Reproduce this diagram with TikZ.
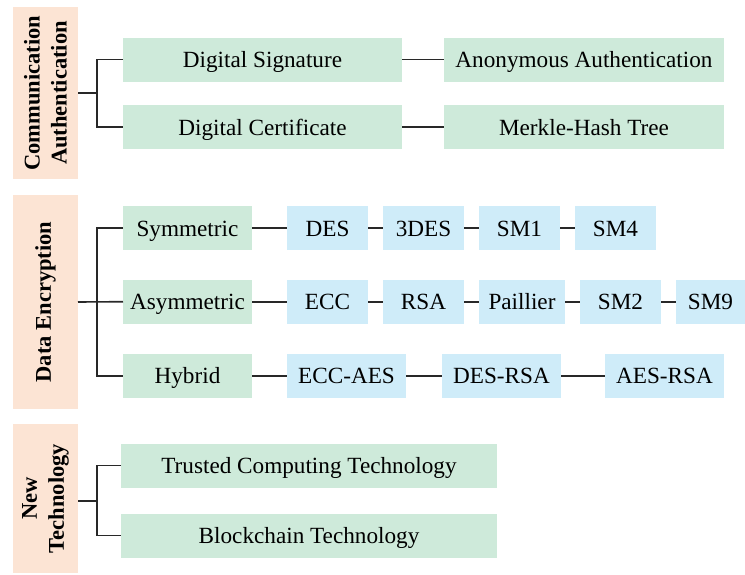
\documentclass[tikz,border=0pt]{standalone}
\usepackage{fontspec}
\setmainfont{Liberation Serif}
\definecolor{org}{RGB}{252,228,212}
\definecolor{grn}{RGB}{206,234,218}
\definecolor{blu}{RGB}{207,236,249}
\definecolor{ln}{RGB}{40,40,40}
\begin{document}
\begin{tikzpicture}[x=1pt,y=-1pt,
  font=\fontsize{23.2}{27}\selectfont,
  base/.style={inner sep=0pt, outer sep=0pt, minimum height=44pt, align=center, text height=19pt, text depth=2.8pt},
  gbox/.style={base, fill=grn},
  bbox/.style={base, fill=blu},
  obox/.style={inner sep=0pt, outer sep=0pt, fill=org, minimum width=65pt},
  vlab/.style={rotate=90, align=center, font=\fontsize{22.5}{27}\selectfont\bfseries},
  conn/.style={draw=ln, line width=1.6pt}]
\useasboundingbox (0,0) rectangle (745,574);

% Section 1
\node[obox, minimum height=172pt] (ca) at (45.5,93) {};
\node[vlab] (cat) at (ca.center) {Communication\\Authentication};
\node[gbox, minimum width=279pt] (ds) at (262.5,59.5) {Digital Signature};
\node[gbox, minimum width=279pt] (dc) at (262.5,127) {Digital Certificate};
\node[gbox, minimum width=280pt] (aa) at (584,59.5) {Anonymous Authentication};
\node[gbox, minimum width=280pt] (mh) at (584,127) {Merkle-Hash Tree};
\coordinate (b1) at (97,93);
\draw[conn] (ca.east |- b1) -- (b1);
\draw[conn] (ds.west) -| (b1) |- (dc.west);
\draw[conn] (ds) -- (aa);
\draw[conn] (dc) -- (mh);

% Section 2
\node[obox, minimum height=214pt] (de) at (45.5,302) {};
\node[vlab] (det) at (de.center) {Data Encryption};
\node[gbox, minimum width=129pt] (sym) at (187.5,228) {Symmetric};
\node[gbox, minimum width=129pt] (asy) at (187.5,301.7) {Asymmetric};
\node[gbox, minimum width=129pt] (hyb) at (187.5,375.7) {Hybrid};
\node[bbox, minimum width=81pt] (des) at (327.5,228) {DES};
\node[bbox, minimum width=81pt] (tdes) at (423.5,228) {3DES};
\node[bbox, minimum width=81pt] (sm1) at (519.5,228) {SM1};
\node[bbox, minimum width=81pt] (sm4) at (615.5,228) {SM4};
\node[bbox, minimum width=81pt] (ecc) at (327.5,301.7) {ECC};
\node[bbox, minimum width=81pt] (rsa) at (423.5,301.7) {RSA};
\node[bbox, minimum width=86pt] (pai) at (522,301.7) {Paillier};
\node[bbox, minimum width=81pt] (sm2) at (620.5,301.7) {SM2};
\node[bbox, minimum width=69pt] (sm9) at (710.5,301.7) {SM9};
\node[bbox, minimum width=119pt] (eccaes) at (346.5,375.7) {ECC-AES};
\node[bbox, minimum width=119pt] (desrsa) at (501.5,375.7) {DES-RSA};
\node[bbox, minimum width=119pt] (aesrsa) at (664.5,375.7) {AES-RSA};
\coordinate (b2) at (97,302);
\draw[conn] (de.east |- b2) -- (asy.west);
\draw[conn] (sym.west) -| (b2) |- (hyb.west);
\draw[conn] (sym) -- (des); \draw[conn] (des) -- (tdes); \draw[conn] (tdes) -- (sm1); \draw[conn] (sm1) -- (sm4);
\draw[conn] (asy) -- (ecc); \draw[conn] (ecc) -- (rsa); \draw[conn] (rsa) -- (pai); \draw[conn] (pai) -- (sm2); \draw[conn] (sm2) -- (sm9);
\draw[conn] (hyb) -- (eccaes); \draw[conn] (eccaes) -- (desrsa); \draw[conn] (desrsa) -- (aesrsa);

% Section 3
\node[obox, minimum height=149pt] (nt) at (45.5,498.5) {};
\node[vlab] (ntt) at (nt.center) {New\\Technology};
\node[gbox, minimum width=376pt] (tc) at (309,465.5) {Trusted Computing Technology};
\node[gbox, minimum width=376pt] (bc) at (309,535.5) {Blockchain Technology};
\coordinate (b3) at (97,501);
\draw[conn] (nt.east |- b3) -- (b3);
\draw[conn] (tc.west) -| (b3) |- (bc.west);
\end{tikzpicture}
\end{document}
